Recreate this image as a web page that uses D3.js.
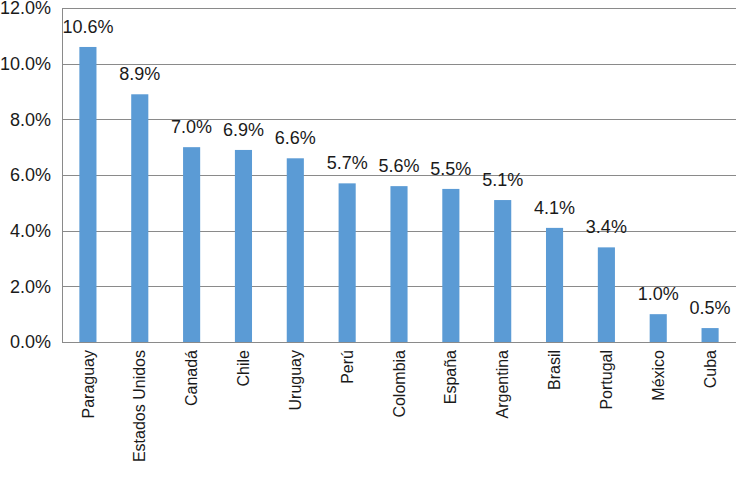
<!DOCTYPE html>
<html><head><meta charset="utf-8">
<script src="https://cdn.jsdelivr.net/npm/d3@7"></script>
<style>body{margin:0;background:#fff}text{font-family:"Liberation Sans",Arial,sans-serif}</style>
</head><body><svg id="c" width="736" height="484"></svg>
<script>
const categories = ["Paraguay","Estados Unidos","Canadá","Chile","Uruguay","Perú","Colombia","España","Argentina","Brasil","Portugal","México","Cuba"];
const values = [10.6, 8.9, 7.0, 6.9, 6.6, 5.7, 5.6, 5.5, 5.1, 4.1, 3.4, 1.0, 0.5];
const yTicks = [0, 2, 4, 6, 8, 10, 12];

const svg = d3.select("#c");
const m = {left: 62, right: 736, top: 8, bottom: 342};
const x = d3.scaleBand().domain(categories).range([m.left, m.right]).paddingInner(0.67).paddingOuter(0.335);
const y = d3.scaleLinear().domain([0, 12]).range([m.bottom, m.top]);

// gridlines
svg.append("g").selectAll("line").data(yTicks).join("line")
  .attr("x1", m.left).attr("x2", m.right)
  .attr("y1", d => Math.round(y(d)) + 0.5).attr("y2", d => Math.round(y(d)) + 0.5)
  .attr("stroke", "#8a8a8a").attr("stroke-width", 1);

// y axis
const ya = svg.append("g").attr("transform", `translate(${m.left},0)`)
  .call(d3.axisLeft(y).tickValues(yTicks).tickSize(0).tickPadding(11).tickFormat(d => d.toFixed(1) + "%"));
ya.select(".domain").attr("stroke", "#8a8a8a");
ya.selectAll("text").attr("font-size", 18).attr("fill", "#1a1a1a").style("font-family", '"Liberation Sans",Arial,sans-serif');

// bars
svg.append("g").selectAll("rect").data(values).join("rect")
  .attr("x", (d, i) => x(categories[i])).attr("width", x.bandwidth())
  .attr("y", d => y(d)).attr("height", d => y(0) - y(d))
  .attr("fill", "#5B9BD5");

// value labels
svg.append("g").selectAll("text").data(values).join("text")
  .attr("x", (d, i) => x(categories[i]) + x.bandwidth() / 2)
  .attr("y", d => y(d) - 14)
  .attr("text-anchor", "middle").attr("font-size", 18).attr("fill", "#1a1a1a")
  .text(d => d.toFixed(1) + "%");

// x axis
const xa = svg.append("g").attr("transform", `translate(0,${m.bottom})`)
  .call(d3.axisBottom(x).tickSize(0).tickPadding(0));
xa.select(".domain").remove();
xa.selectAll("text")
  .attr("font-size", 16).attr("fill", "#1a1a1a").style("font-family", '"Liberation Sans",Arial,sans-serif')
  .attr("transform", "rotate(-90)")
  .attr("text-anchor", "end").attr("x", -8).attr("y", 0).attr("dy", "0.35em");
</script></body></html>
